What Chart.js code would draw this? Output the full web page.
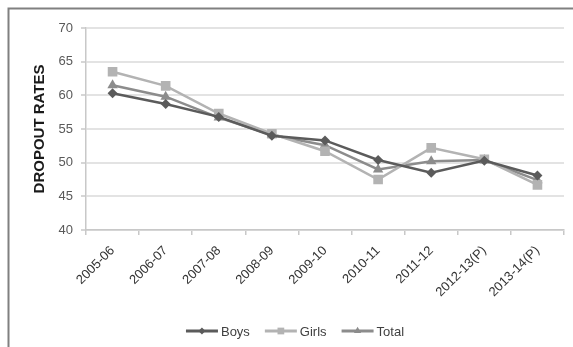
<!DOCTYPE html>
<html>
<head>
<meta charset="utf-8">
<style>
  html, body { margin: 0; padding: 0; background: #ffffff; }
  #wrap { position: relative; width: 573px; height: 347px; }
  canvas { display: block; }
</style>
<script src="https://cdn.jsdelivr.net/npm/chart.js@4.4.1/dist/chart.umd.min.js"></script>
</head>
<body>
<div id="wrap"><canvas id="c" width="573" height="347"></canvas></div>
<script>
// School years on the x axis
const years = ['2005-06', '2006-07', '2007-08', '2008-09', '2009-10', '2010-11', '2011-12', '2012-13(P)', '2013-14(P)'];

// Dropout rates (%) by group
const boys  = [60.3, 58.7, 56.8, 54.0, 53.3, 50.4, 48.5, 50.3, 48.1];
const girls = [63.5, 61.4, 57.3, 54.3, 51.7, 47.5, 52.2, 50.5, 46.7];
const total = [61.5, 59.8, 56.7, 54.1, 52.6, 49.0, 50.2, 50.4, 47.4];

// Y axis range and step
const yMin = 40, yMax = 70, yStep = 5;

const series = [
  { label: 'Boys',  data: boys,  color: '#5b5b5b', style: 'rectRot',  radius: 5 },
  { label: 'Girls', data: girls, color: '#b3b3b3', style: 'rect',     radius: 6.8 },
  { label: 'Total', data: total, color: '#8c8c8c', style: 'triangle', radius: 6 }
];

const FONT = '"Liberation Sans", Arial, sans-serif';

// Frame along the top and left edges of the picture
const framePlugin = {
  id: 'frame',
  beforeDraw(chart) {
    const ctx = chart.ctx;
    ctx.save();
    ctx.strokeStyle = '#808080';
    ctx.lineWidth = 2;
    ctx.beginPath();
    ctx.moveTo(573, 8.5);
    ctx.lineTo(8.5, 8.5);
    ctx.lineTo(8.5, 347);
    ctx.stroke();
    ctx.restore();
  }
};

// Legend with line-and-marker samples, centred under the plot
const lineLegend = {
  id: 'lineLegend',
  afterDraw(chart) {
    const ctx = chart.ctx;
    const y = 331;
    const sample = 32, gap = 3, spacing = 15;
    ctx.save();
    ctx.font = '13px ' + FONT;
    ctx.textBaseline = 'middle';
    const items = chart.data.datasets.map(ds => ({ ds, w: sample + gap + ctx.measureText(ds.label).width }));
    const totalW = items.reduce((s, it) => s + it.w, 0) + spacing * (items.length - 1);
    let x = (chart.chartArea.left + chart.chartArea.right) / 2 - totalW / 2 - 30;
    items.forEach(it => {
      const ds = it.ds;
      ctx.strokeStyle = ds.borderColor;
      ctx.lineWidth = 3;
      ctx.beginPath();
      ctx.moveTo(x, y);
      ctx.lineTo(x + sample, y);
      ctx.stroke();
      ctx.fillStyle = ds.borderColor;
      Chart.helpers.drawPoint(ctx, {
        pointStyle: ds.pointStyle, radius: ds.pointRadius * 0.7, rotation: 0, borderWidth: 0
      }, x + sample / 2, y);
      ctx.fillStyle = '#404040';
      ctx.fillText(ds.label, x + sample + gap, y + 1);
      x += it.w + spacing;
    });
    ctx.restore();
  }
};

new Chart(document.getElementById('c'), {
  type: 'line',
  data: {
    labels: years,
    datasets: series.map(s => ({
      label: s.label,
      data: s.data,
      borderColor: s.color,
      backgroundColor: s.color,
      pointBackgroundColor: s.color,
      pointBorderColor: s.color,
      pointStyle: s.style,
      pointRadius: s.radius,
      pointBorderWidth: 0,
      borderWidth: 2.5,
      tension: 0,
      fill: false
    }))
  },
  options: {
    responsive: false,
    animation: false,
    events: [],
    layout: { padding: { left: 9, right: 9, top: 28, bottom: 0 } },
    plugins: {
      legend: { display: false },
      tooltip: { enabled: false }
    },
    scales: {
      x: {
        offset: true,
        grid: {
          offset: true,
          drawOnChartArea: false,
          drawTicks: true,
          tickLength: 5,
          color: '#c8c8c8',
          lineWidth: 1.5
        },
        border: { display: true, color: '#c8c8c8', width: 1.5 },
        ticks: {
          minRotation: 45,
          maxRotation: 45,
          autoSkip: false,
          padding: 8,
          color: '#333333',
          font: { family: FONT, size: 13 }
        },
        afterFit(scale) { scale.height = 117; }
      },
      y: {
        min: yMin,
        max: yMax,
        ticks: {
          stepSize: yStep,
          padding: 8,
          color: '#595959',
          font: { family: FONT, size: 13 }
        },
        grid: {
          color: '#e3e3e3',
          lineWidth: 2,
          tickLength: 5,
          tickColor: '#c8c8c8',
          tickWidth: 1.5
        },
        border: { display: true, color: '#c8c8c8', width: 1.5 },
        title: {
          display: true,
          text: 'DROPOUT RATES',
          color: '#1a1a1a',
          font: { family: FONT, size: 15, weight: 'bold' },
          padding: { top: 22, bottom: 0 }
        },
        afterFit(scale) { scale.width = 77; }
      }
    }
  },
  plugins: [framePlugin, lineLegend]
});
</script>
</body>
</html>
